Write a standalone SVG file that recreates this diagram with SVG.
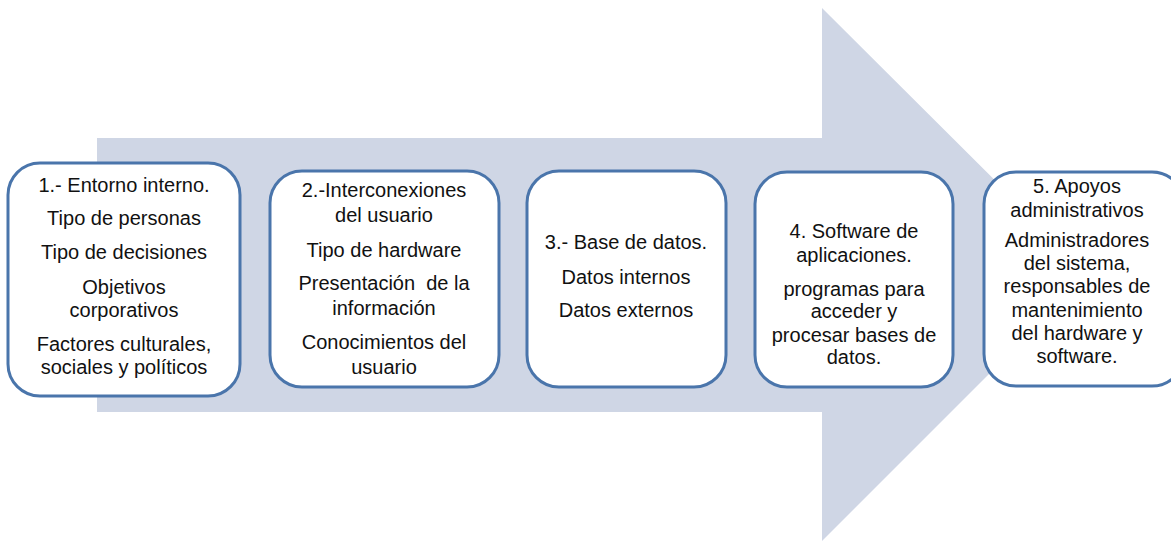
<svg xmlns="http://www.w3.org/2000/svg" width="1171" height="543" viewBox="0 0 1171 543">
<style>
.box{fill:#ffffff;stroke:#4a75ab;stroke-width:3}
.t{font-family:"Liberation Sans",Arial,sans-serif;font-size:20px;fill:#111111;text-anchor:middle}
</style>
<rect width="1171" height="543" fill="#ffffff"/>
<g id="connectors">
<polygon points="97,138 822,138 822,8 1089,274 822,541 822,412 97,412" fill="#cfd6e5"/>
</g>
<g id="node1">
<rect class="box" x="8" y="163" width="232" height="233" rx="32"/>
<text class="t" x="124" y="192">1.- Entorno interno.</text>
<text class="t" x="124" y="225">Tipo de personas</text>
<text class="t" x="124" y="259">Tipo de decisiones</text>
<text class="t" x="124" y="294">Objetivos</text>
<text class="t" x="124" y="317">corporativos</text>
<text class="t" x="124" y="351">Factores culturales,</text>
<text class="t" x="124" y="374">sociales y políticos</text>
</g>
<g id="node2">
<rect class="box" x="270" y="171" width="229" height="216" rx="32"/>
<text class="t" x="384" y="197">2.-Interconexiones</text>
<text class="t" x="384" y="222">del usuario</text>
<text class="t" x="384" y="257">Tipo de hardware</text>
<text class="t" x="384" y="290" xml:space="preserve">Presentación  de la</text>
<text class="t" x="384" y="315">información</text>
<text class="t" x="384" y="349">Conocimientos del</text>
<text class="t" x="384" y="374">usuario</text>
</g>
<g id="node3">
<rect class="box" x="527" y="171" width="199" height="216" rx="32"/>
<text class="t" x="626" y="249">3.- Base de datos.</text>
<text class="t" x="626" y="284">Datos internos</text>
<text class="t" x="626" y="317">Datos externos</text>
</g>
<g id="node4">
<rect class="box" x="755" y="172" width="198" height="215" rx="32"/>
<text class="t" x="854" y="238">4. Software de</text>
<text class="t" x="854" y="262">aplicaciones.</text>
<text class="t" x="854" y="296">programas para</text>
<text class="t" x="854" y="318">acceder y</text>
<text class="t" x="854" y="342">procesar bases de</text>
<text class="t" x="854" y="364">datos.</text>
</g>
<g id="node5">
<rect class="box" x="984" y="172" width="200" height="214" rx="32"/>
<text class="t" x="1077" y="193">5. Apoyos</text>
<text class="t" x="1077" y="217">administrativos</text>
<text class="t" x="1077" y="247">Administradores</text>
<text class="t" x="1077" y="270">del sistema,</text>
<text class="t" x="1077" y="293">responsables de</text>
<text class="t" x="1077" y="317">mantenimiento</text>
<text class="t" x="1077" y="340">del hardware y</text>
<text class="t" x="1077" y="363">software.</text>
</g>
</svg>
